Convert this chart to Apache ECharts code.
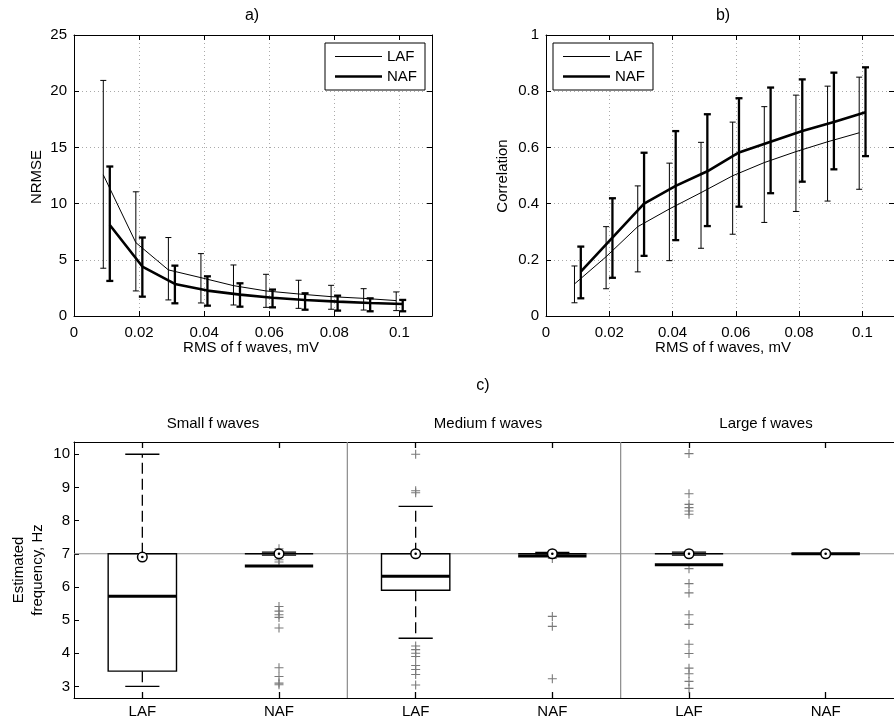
<!DOCTYPE html>
<html><head><meta charset="utf-8">
<script src="https://cdn.jsdelivr.net/npm/echarts@6/dist/echarts.min.js"></script>
<style>html,body{margin:0;padding:0;background:#fff}#c{width:894px;height:719px}</style>
</head><body><div id="c"></div>
<script>
// ---- panel a / b data ----
const rmsLAF = [0.009,0.019,0.029,0.039,0.049,0.059,0.069,0.079,0.089,0.099];
const rmsNAF = [0.011,0.021,0.031,0.041,0.051,0.061,0.071,0.081,0.091,0.101];
const nrmseLAF   = [12.56,6.53,4.10,3.41,2.70,2.23,1.96,1.72,1.57,1.37];
const nrmseLAFLo = [4.25,2.23,1.43,1.16,0.98,0.77,0.68,0.60,0.53,0.48];
const nrmseLAFHi = [20.96,11.05,6.98,5.55,4.54,3.71,3.18,2.73,2.43,2.14];
const nrmseNAF   = [8.10,4.40,2.85,2.26,1.90,1.63,1.43,1.28,1.16,1.07];
const nrmseNAFLo = [3.12,1.72,1.13,0.92,0.83,0.77,0.56,0.48,0.42,0.42];
const nrmseNAFHi = [13.30,6.98,4.48,3.53,2.91,2.35,2.02,1.81,1.57,1.43];
const corrLAF   = [0.114,0.211,0.318,0.381,0.439,0.499,0.546,0.585,0.620,0.652];
const corrLAFLo = [0.047,0.097,0.157,0.197,0.241,0.291,0.333,0.372,0.409,0.451];
const corrLAFHi = [0.178,0.318,0.463,0.544,0.618,0.690,0.745,0.786,0.818,0.850];
const corrNAF   = [0.158,0.279,0.400,0.463,0.515,0.582,0.620,0.658,0.690,0.725];
const corrNAFLo = [0.063,0.136,0.214,0.270,0.320,0.389,0.437,0.478,0.522,0.569];
const corrNAFHi = [0.247,0.419,0.581,0.658,0.718,0.775,0.813,0.842,0.866,0.885];

// ---- panel c data ----
const boxCategories = ['LAF','NAF','LAF','NAF','LAF','NAF'];
const groupTitles = ['Small f waves','Medium f waves','Large f waves'];
const boxQ1     = [3.46,7.00,5.90,7.00,7.00,7.00];
const boxQ3     = [7.00,7.00,7.00,7.00,7.00,7.00];
const boxMedian = [5.72,6.63,6.32,6.93,6.67,7.00];
const whiskLo   = [3.00,6.96,4.45,6.96,6.96,7.00];
const whiskHi   = [10.00,7.05,8.43,7.04,7.05,7.00];
const markerVal = [6.90,7.00,7.00,7.00,7.00,7.00];
const refFreq = 7;
const outSmallLAF  = [];
const outSmallNAF  = [7.15,6.82,6.75,5.41,5.27,5.16,5.08,4.76,3.56,3.30,3.10,3.05];
const outMediumLAF = [10.0,8.90,8.84,4.22,4.11,4.00,3.90,3.63,3.51,3.36,3.04];
const outMediumNAF = [6.86,5.11,4.81,3.23];
const outLargeLAF  = [10.02,8.81,8.49,8.39,8.29,8.19,6.55,6.10,5.82,5.16,4.87,4.27,3.99,3.55,3.38,3.15,2.94];
const outLargeNAF  = [];
const separatorsAfter = [1,3];

const FONT = "'Liberation Sans', Arial, Helvetica, sans-serif";
const chart = echarts.init(document.getElementById('c'));

function zip(xs, ys){ return xs.map((x,i)=>[x, ys[i]]); }

function errorBars(name, xs, lo, hi, xi, yi, lw, cap){
  return {
    type:'custom', name, xAxisIndex:xi, yAxisIndex:yi, z:5, silent:true,
    data: xs.map((x,i)=>[x, lo[i], hi[i]]),
    encode:{x:0, y:[1,2]},
    renderItem(params, api){
      const p1 = api.coord([api.value(0), api.value(1)]);
      const p2 = api.coord([api.value(0), api.value(2)]);
      const st = {stroke:'#000', lineWidth:lw};
      return {type:'group', children:[
        {type:'line', shape:{x1:p1[0],y1:p1[1],x2:p2[0],y2:p2[1]}, style:st},
        {type:'line', shape:{x1:p1[0]-cap,y1:p1[1],x2:p1[0]+cap,y2:p1[1]}, style:st},
        {type:'line', shape:{x1:p2[0]-cap,y1:p2[1],x2:p2[0]+cap,y2:p2[1]}, style:st}
      ]};
    }
  };
}

function valueX(gridIndex, pos, show){
  return {type:'value', gridIndex, position:pos, min:0, max:0.11, interval:0.02,
    axisLine:{show:true, onZero:false, lineStyle:{color:'#000', width:1}},
    axisTick:{show:true, inside:true, length:5, lineStyle:{color:'#000'}},
    axisLabel:{show:show, showMaxLabel:false, margin:9, color:'#000', fontSize:15, fontFamily:FONT},
    splitLine:{show:show, lineStyle:{color:'#aaa', type:[1,3], width:1}}};
}
function valueY(gridIndex, pos, show, max, interval){
  return {type:'value', gridIndex, position:pos, min:0, max, interval,
    axisLine:{show:true, onZero:false, lineStyle:{color:'#000', width:1}},
    axisTick:{show:true, inside:true, length:5, lineStyle:{color:'#000'}},
    axisLabel:{show:show, margin:7, color:'#000', fontSize:15, fontFamily:FONT},
    splitLine:{show:show, lineStyle:{color:'#aaa', type:[1,3], width:1}}};
}

const outlierGroups = [outSmallLAF,outSmallNAF,outMediumLAF,outMediumNAF,outLargeLAF,outLargeNAF];
const outlierData = [];
outlierGroups.forEach((arr, i)=>arr.forEach(v=>outlierData.push([i, v])));

const boxData = boxCategories.map((c,i)=>[i, boxQ1[i], boxQ3[i], boxMedian[i], whiskLo[i], whiskHi[i], markerVal[i]]);

function textEl(text, x, y, size, rot){
  return {type:'text', x, y, rotation: rot||0, silent:true,
    style:{text, fill:'#000', font: size+'px '+FONT, textAlign:'center', textVerticalAlign:'middle', lineHeight:19}};
}

const legendItems = [
  {name:'LAF', icon:'path://M0,0H47V1.1H0Z', itemStyle:{color:'#000', borderWidth:0}},
  {name:'NAF', icon:'path://M0,0H47V2.7H0Z', itemStyle:{color:'#000', borderWidth:0}}
];
const legendCommon = {orient:'vertical', data:legendItems, itemWidth:47, itemHeight:14, itemGap:5,
  padding:[6,8,6,10], borderColor:'#000', borderWidth:1, backgroundColor:'#fff', selectedMode:false,
  textStyle:{fontSize:15, color:'#000', fontFamily:FONT}};

const option = {
  animation:false,
  backgroundColor:'#fff',
  textStyle:{fontFamily:FONT},
  grid:[
    {left:74, top:35, width:358, height:281},
    {left:546, top:35, width:358, height:281},
    {left:74, top:442, width:831, height:256}
  ],
  legend:[
    Object.assign({}, legendCommon, {left:325, top:43, z:10}),
    Object.assign({}, legendCommon, {left:553, top:43, z:10})
  ],
  xAxis:[
    valueX(0,'bottom',true), valueX(0,'top',false),
    valueX(1,'bottom',true), valueX(1,'top',false),
    {type:'category', gridIndex:2, position:'bottom', data:boxCategories, boundaryGap:true,
     axisLine:{show:true, lineStyle:{color:'#000'}},
     axisTick:{show:true, inside:true, alignWithLabel:true, length:6, lineStyle:{color:'#000', width:1.3}},
     axisLabel:{margin:6, color:'#000', fontSize:15, fontFamily:FONT}, splitLine:{show:false}},
    {type:'category', gridIndex:2, position:'top', data:boxCategories, boundaryGap:true,
     axisLine:{show:true, lineStyle:{color:'#000'}},
     axisTick:{show:true, inside:true, alignWithLabel:true, length:6, lineStyle:{color:'#000', width:1.3}},
     axisLabel:{show:false}, splitLine:{show:false}}
  ],
  yAxis:[
    valueY(0,'left',true,25,5), valueY(0,'right',false,25,5),
    valueY(1,'left',true,1,0.2), valueY(1,'right',false,1,0.2),
    {type:'value', gridIndex:2, position:'left', min:2.65, max:10.37,
     axisLine:{show:true, onZero:false, lineStyle:{color:'#000'}},
     axisTick:{show:true, inside:true, length:5, customValues:[3,4,5,6,7,8,9,10], lineStyle:{color:'#000'}},
     axisLabel:{margin:4, color:'#000', fontSize:15, fontFamily:FONT, customValues:[3,4,5,6,7,8,9,10]},
     splitLine:{show:false}}
  ],
  series:[
    {type:'line', name:'LAF', xAxisIndex:0, yAxisIndex:0, data:zip(rmsLAF,nrmseLAF), symbol:'none', z:3,
     lineStyle:{color:'#000', width:1}, itemStyle:{color:'#000'}},
    {type:'line', name:'NAF', xAxisIndex:0, yAxisIndex:0, data:zip(rmsNAF,nrmseNAF), symbol:'none', z:3,
     lineStyle:{color:'#000', width:2.6}, itemStyle:{color:'#000'}},
    errorBars('LAF err a', rmsLAF, nrmseLAFLo, nrmseLAFHi, 0, 0, 1, 3),
    errorBars('NAF err a', rmsNAF, nrmseNAFLo, nrmseNAFHi, 0, 0, 2.3, 3.5),
    {type:'line', name:'LAF', xAxisIndex:2, yAxisIndex:2, data:zip(rmsLAF,corrLAF), symbol:'none', z:3,
     lineStyle:{color:'#000', width:1}, itemStyle:{color:'#000'}},
    {type:'line', name:'NAF', xAxisIndex:2, yAxisIndex:2, data:zip(rmsNAF,corrNAF), symbol:'none', z:3,
     lineStyle:{color:'#000', width:2.6}, itemStyle:{color:'#000'}},
    errorBars('LAF err b', rmsLAF, corrLAFLo, corrLAFHi, 2, 2, 1, 3),
    errorBars('NAF err b', rmsNAF, corrNAFLo, corrNAFHi, 2, 2, 2.3, 3.5),
    // panel c reference line and separators
    {type:'custom', name:'frame c', xAxisIndex:4, yAxisIndex:4, z:1, silent:true,
     data:[[0, refFreq]], encode:{x:0, y:1},
     renderItem(params, api){
       const cs = params.coordSys;
       const y7 = api.coord([0, api.value(1)])[1];
       const bw = api.size([1,0])[0];
       const ch = [{type:'line', shape:{x1:cs.x, y1:y7, x2:cs.x+cs.width, y2:y7}, style:{stroke:'#8a8a8a', lineWidth:1.2}}];
       separatorsAfter.forEach(k=>{
         const xs = api.coord([k, api.value(1)])[0] + bw/2;
         ch.push({type:'line', shape:{x1:xs, y1:cs.y, x2:xs, y2:cs.y+cs.height}, style:{stroke:'#8a8a8a', lineWidth:1.2}});
       });
       return {type:'group', children:ch};
     }},
    // outliers
    {type:'scatter', name:'outliers', xAxisIndex:4, yAxisIndex:4, z:2, silent:true,
     data:outlierData, symbol:'path://M0,5L10,5M5,0L5,10', symbolSize:[9,9],
     itemStyle:{color:'none', borderColor:'#7a7a7a', borderWidth:1.1, opacity:1}},
    // boxes
    {type:'custom', name:'boxes', xAxisIndex:4, yAxisIndex:4, z:4, silent:true,
     data:boxData, encode:{x:0, y:[1,2,3,4,5,6]},
     renderItem(params, api){
       const i = api.value(0);
       const bw = api.size([1,0])[0];
       const X = api.coord([i, 7])[0];
       const Y = v=>api.coord([i, v])[1];
       const hb = bw*0.25, hc = bw*0.125;
       const q1 = Y(api.value(1)), q3 = Y(api.value(2)), md = Y(api.value(3));
       const wl = Y(api.value(4)), wh = Y(api.value(5)), mk = Y(api.value(6));
       const thin = {stroke:'#000', lineWidth:1.4, fill:null};
       const dash = {stroke:'#000', lineWidth:1.3, lineDash:[11,5]};
       const ch = [];
       if (wh < q3) ch.push({type:'line', shape:{x1:X,y1:q3,x2:X,y2:wh}, style:dash});
       if (wl > q1) ch.push({type:'line', shape:{x1:X,y1:q1,x2:X,y2:wl}, style:dash});
       ch.push({type:'line', shape:{x1:X-hc,y1:wh,x2:X+hc,y2:wh}, style:thin});
       ch.push({type:'line', shape:{x1:X-hc,y1:wl,x2:X+hc,y2:wl}, style:thin});
       ch.push({type:'rect', shape:{x:X-hb, y:q3, width:2*hb, height:Math.max(q1-q3,0)}, style:{stroke:'#000', lineWidth:1.4, fill:'none'}});
       ch.push({type:'line', shape:{x1:X-hb,y1:md,x2:X+hb,y2:md}, style:{stroke:'#000', lineWidth:3}});
       ch.push({type:'circle', shape:{cx:X, cy:mk, r:4.8}, style:{stroke:'#000', lineWidth:1.5, fill:'#fff'}});
       ch.push({type:'circle', shape:{cx:X, cy:mk, r:1.3}, style:{fill:'#000'}});
       return {type:'group', children:ch};
     }}
  ],
  graphic:[
    textEl('a)', 252, 16, 16),
    textEl('b)', 723, 16, 16),
    textEl('c)', 483, 386, 16),
    textEl(groupTitles[0], 213, 424, 15),
    textEl(groupTitles[1], 488, 424, 15),
    textEl(groupTitles[2], 766, 424, 15),
    textEl('RMS of f waves, mV', 251, 348, 15),
    textEl('RMS of f waves, mV', 723, 348, 15),
    textEl('NRMSE', 37, 177, 15, Math.PI/2),
    textEl('Correlation', 503, 176, 15, Math.PI/2),
    textEl('Estimated\nfrequency, Hz', 28, 570, 15, Math.PI/2)
  ]
};
chart.setOption(option);
</script>
</body></html>
